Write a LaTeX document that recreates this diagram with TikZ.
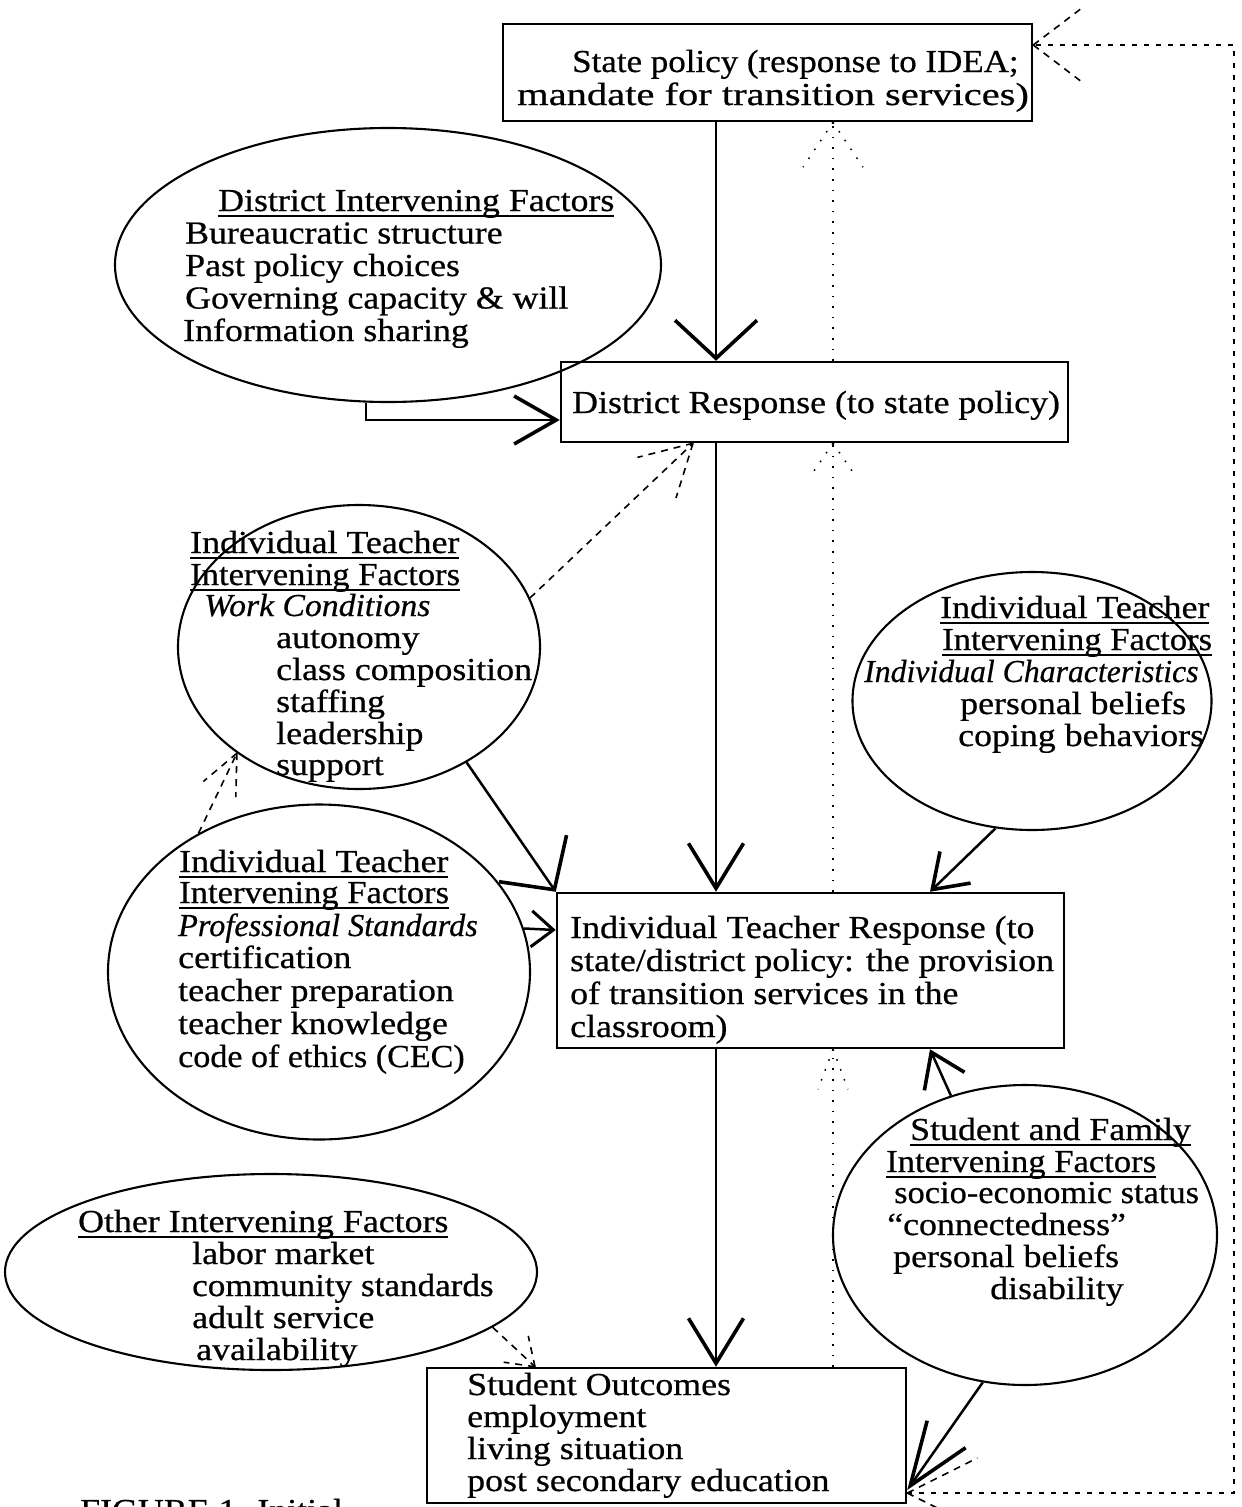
\documentclass[tikz,border=0pt]{standalone}
\usepackage{graphicx}
\usepackage{fontspec}
\setmainfont{Liberation Serif}[FakeStretch=1.12,FakeBold=0.6]
\newcommand{\ulx}[1]{\setbox0\hbox{#1}\rlap{\rule[-6.3pt]{\wd0}{1.9pt}}\box0}
\newcommand{\sx}[2]{\scalebox{#1}[1]{#2}}
\usetikzlibrary{arrows.meta,decorations.markings,shapes.geometric}
\tikzset{
  box/.style={draw, line width=2.5pt, rectangle, inner sep=0pt},
  ell/.style={draw, line width=2.1pt, ellipse, inner sep=0pt},
  txt/.style={inner sep=0pt, anchor=base west, font=\fontsize{32}{33}\selectfont},
  conn/.style={line width=2.5pt},
  bigV/.style={-{Straight Barb[length=38pt,width=82pt,line width=3.6pt]}},
  tallV/.style={-{Straight Barb[length=45pt,width=55pt,line width=3.6pt]}},
  midV/.style={-{Straight Barb[length=42pt,width=48pt,line width=3.6pt]}},
  medV/.style={-{Straight Barb[length=32pt,width=44pt,line width=3.6pt]}},
  smallV/.style={-{Straight Barb[length=22pt,width=36pt,line width=3pt]}},
  longV/.style={-{Straight Barb[length=63pt,width=47pt,line width=3.6pt]}},
  dashA/.style={line width=1.6pt, dash pattern=on 7pt off 6pt},
  dashB/.style={line width=1.4pt, dash pattern=on 5pt off 7pt},
  dotA/.style={line width=1.5pt, dash pattern=on 1.6pt off 9pt},
  dbarb/.style 2 args={postaction={decorate,decoration={markings,
    mark=at position 1 with {\draw[dashA] (0pt,0pt) -- (-#1,#2) (0pt,0pt) -- (-#1,-#2);}}}},
  obarb/.style 2 args={postaction={decorate,decoration={markings,
    mark=at position 1 with {\draw[dotA] (0pt,0pt) -- (-#1,#2) (0pt,0pt) -- (-#1,-#2);}}}},
}
\begin{document}
\begin{tikzpicture}[x=1pt,y=-1pt]
\useasboundingbox (0,0) rectangle (1242,1507);

% boxes
\node[box, minimum width=529pt, minimum height=97pt] (state) at (767.5,72.5) {};
\node[box, minimum width=507pt, minimum height=80pt] (district) at (814.5,402) {};
\node[box, minimum width=507pt, minimum height=155pt] (itr) at (810.5,970.5) {};
\node[box, minimum width=479pt, minimum height=135pt] (so) at (666.5,1435.5) {};

% ellipses
\node[ell, minimum width=546pt, minimum height=274pt] (dell) at (388,265) {};
\node[ell, minimum width=362pt, minimum height=284pt] (well) at (359,647) {};
\node[ell, minimum width=359pt, minimum height=258pt] (rell) at (1032,701) {};
\node[ell, minimum width=422pt, minimum height=335pt] (pell) at (319,972) {};
\node[ell, minimum width=384pt, minimum height=300pt] (sell) at (1025,1235) {};
\node[ell, minimum width=532pt, minimum height=196pt] (oell) at (271,1272) {};

% texts
\node[txt] (s1) at (572,72) {\sx{0.975}{State policy (response to IDEA;}};
\node[txt] (s2) at (517,105) {\sx{1.13}{mandate for transition services)}};
\node[txt] (d1) at (572,413) {District Response (to state policy)};

\node[txt] (de1) at (218,211) {\ulx{District Intervening Factors}};
\node[txt] (de2) at (185,243.5) {Bureaucratic structure};
\node[txt] (de3) at (185,276) {Past policy choices};
\node[txt] (de4) at (185,308.5) {Governing capacity \& will};
\node[txt] (de5) at (183,341) {Information sharing};

\node[txt] (w1) at (190,553) {\ulx{Individual Teacher}};
\node[txt] (w2) at (190,585) {\ulx{\sx{0.965}{Intervening Factors}}};
\node[txt] (w3) at (204,616) {\sx{0.94}{\itshape Work Conditions}};
\node[txt] (w4) at (276,648) {autonomy};
\node[txt] (w5) at (276,680) {class composition};
\node[txt] (w6) at (276,712) {staffing};
\node[txt] (w7) at (276,744) {leadership};
\node[txt] (w8) at (276,775) {support};

\node[txt] (r1) at (940,618) {\ulx{Individual Teacher}};
\node[txt] (r2) at (942,650) {\ulx{\sx{0.965}{Intervening Factors}}};
\node[txt] (r3) at (864,682) {\sx{0.886}{\itshape Individual Characteristics}};
\node[txt] (r4) at (960,714) {personal beliefs};
\node[txt] (r5) at (958,746) {coping behaviors};

\node[txt] (p1) at (179,872) {\ulx{Individual Teacher}};
\node[txt] (p2) at (179,903) {\ulx{\sx{0.965}{Intervening Factors}}};
\node[txt] (p3) at (178,936) {\sx{0.9}{\itshape Professional Standards}};
\node[txt] (p4) at (178,968) {certification};
\node[txt] (p5) at (178,1001) {teacher preparation};
\node[txt] (p6) at (178,1034) {teacher knowledge};
\node[txt] (p7) at (178,1067) {\sx{0.95}{code of ethics (CEC)}};

\node[txt] (i1) at (570,938) {Individual Teacher Response (to};
\node[txt] (i2) at (570,971) {state/district policy: the provision};
\node[txt] (i3) at (570,1004) {of transition services in the};
\node[txt] (i4) at (570,1037) {classroom)};

\node[txt] (f1) at (910,1140) {\ulx{Student and Family}};
\node[txt] (f2) at (886,1172) {\ulx{\sx{0.965}{Intervening Factors}}};
\node[txt] (f3) at (894,1203) {\sx{0.96}{socio-economic status}};
\node[txt] (f4) at (887,1235) {“connectedness”};
\node[txt] (f5) at (893,1267) {personal beliefs};
\node[txt] (f6) at (990,1299) {disability};

\node[txt] (o1) at (78,1232) {\ulx{Other Intervening Factors}};
\node[txt] (o2) at (192,1264) {labor market};
\node[txt] (o3) at (192,1296) {\sx{0.98}{community standards}};
\node[txt] (o4) at (192,1328) {adult service};
\node[txt] (o5) at (196,1360) {availability};

\node[txt] (u1) at (467,1395) {Student Outcomes};
\node[txt] (u2) at (467,1427) {employment};
\node[txt] (u3) at (467,1459) {living situation};
\node[txt] (u4) at (467,1491) {post secondary education};

\node[txt] (cap) at (80,1521) {FIGURE 1. Initial};

% helper coordinates
\coordinate (vx) at (716,0);
\coordinate (fx) at (833,0);
\coordinate (eb) at (366,420);
\coordinate (pe) at (0,930);
\coordinate (rx) at (930,0);
\coordinate (sy) at (0,1490);
\coordinate (jx) at (535,0);
\coordinate (lx) at (693,0);
\coordinate (lp) at (1234,0);
\coordinate (ly1) at (0,1493);
\coordinate (ly2) at (0,45);

% solid connectors
\draw[conn, bigV] (state.south -| vx) -- (district.north -| vx);
\draw[conn, midV] (dell.south -| eb) |- (district.west |- eb);
\draw[conn, tallV] (district.south -| vx) -- (itr.north -| vx);
\draw[conn, bigV] (well.-47) -- (itr.north west);
\draw[conn, smallV] (pell.12) -- (itr.west |- pe);
\draw[conn, medV] (rell.-106) -- (itr.north -| rx);
\draw[conn, tallV] (itr.south -| vx) -- (so.north -| vx);
\draw[conn, medV] (sell.118) -- (itr.south -| rx);
\draw[conn, longV] (sell.-106) -- (so.east |- sy);

% dashed connectors
\draw[dashA, dbarb={26pt}{18pt}] (oell.-14) -- (so.north -| jx);
\draw[dashA, dbarb={40pt}{18pt}] (pell.131) -- (well.-139);
\draw[dashA, dbarb={50pt}{28pt}] (well.16) -- (district.south -| lx);

% dotted feedback
\draw[dotA, obarb={40pt}{15pt}] (so.north -| fx) -- (itr.south -| fx);
\draw[dotA, obarb={32pt}{22pt}] (itr.north -| fx) -- (district.south -| fx);
\draw[dotA, obarb={45pt}{30pt}] (district.north -| fx) -- (state.south -| fx);

% outer loop
\draw[dashB, postaction={decorate,decoration={markings,
    mark=at position 0 with {\draw[dashA] (0pt,0pt) -- (70pt,35pt) (0pt,0pt) -- (70pt,-35pt);},
    mark=at position 1 with {\draw[dashA] (0pt,0pt) -- (-50pt,38pt) (0pt,0pt) -- (-50pt,-38pt);}}}]
  (so.east |- ly1) -- (lp |- ly1) -- (lp |- ly2) -- (state.east |- ly2);
\end{tikzpicture}
\end{document}
